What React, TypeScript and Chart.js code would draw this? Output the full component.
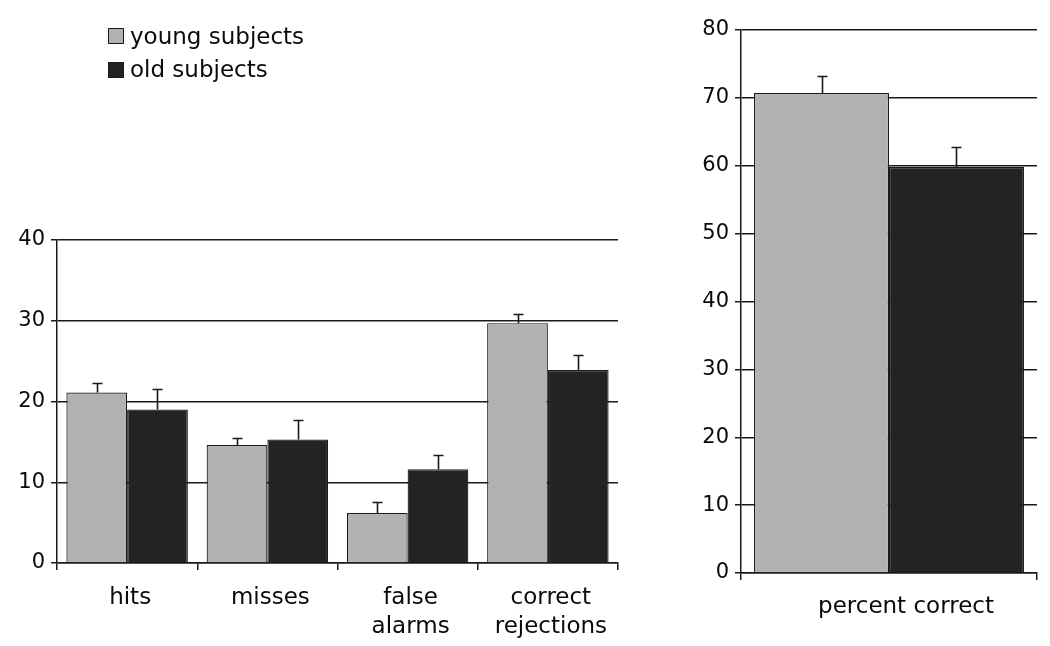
import React, { useEffect, useRef } from "react";
import { Chart, registerables } from "chart.js";

Chart.register(...registerables);

// ---- data ----
const categories: string[][] = [["hits"], ["misses"], ["false", "alarms"], ["correct", "rejections"]];
const youngValues = [21.1, 14.6, 6.2, 29.7];
const oldValues = [19.0, 15.3, 11.6, 23.9];
const youngErrors = [1.2, 0.9, 1.3, 1.1];
const oldErrors = [2.5, 2.4, 1.8, 1.8];
const leftTicks = [0, 10, 20, 30, 40];

const percentCategories = ["percent correct"];
const percentYoung = [70.7];
const percentOld = [59.8];
const percentYoungErrors = [2.5];
const percentOldErrors = [2.9];
const rightTicks = [0, 10, 20, 30, 40, 50, 60, 70, 80];

const seriesNames = ["young subjects", "old subjects"];

// ---- styles ----
const YOUNG_COLOR = "#b2b2b2";
const OLD_COLOR = "#232323";
const INK = "#0a0a0a";
const LINE = "#1a1a1a";
const FONT = "'DejaVu Sans', Verdana, sans-serif";

const errorBarPlugin = {
  id: "errorBars",
  afterDatasetsDraw(chart: any) {
    const ctx = chart.ctx;
    const yScale = chart.scales.y;
    chart.data.datasets.forEach((ds: any, i: number) => {
      const meta = chart.getDatasetMeta(i);
      const errs: number[] = ds.errors || [];
      meta.data.forEach((bar: any, j: number) => {
        const v = ds.data[j];
        const e = errs[j];
        if (e == null) return;
        const x = Math.round(bar.x) + 0.5;
        const y0 = yScale.getPixelForValue(v);
        const y1 = Math.round(yScale.getPixelForValue(v + e)) + 0.5;
        ctx.save();
        ctx.strokeStyle = LINE;
        ctx.lineWidth = 1.6;
        ctx.beginPath();
        ctx.moveTo(x, y0);
        ctx.lineTo(x, y1);
        ctx.moveTo(x - 5, y1);
        ctx.lineTo(x + 5, y1);
        ctx.stroke();
        ctx.restore();
      });
    });
  },
};

function makeConfig(p: {
  labels: any[];
  young: number[];
  old: number[];
  youngErr: number[];
  oldErr: number[];
  ticks: number[];
  catPct: number;
  yWidth: number;
  xHeight: number;
  padding: { top: number; right: number; left: number; bottom: number };
  labelOffset: number;
  labelPadding: number;
}): any {
  return {
    type: "bar",
    data: {
      labels: p.labels,
      datasets: [
        {
          label: seriesNames[0],
          data: p.young,
          errors: p.youngErr,
          backgroundColor: YOUNG_COLOR,
          borderColor: LINE,
          borderWidth: 1.2,
          categoryPercentage: p.catPct,
          barPercentage: 1,
        },
        {
          label: seriesNames[1],
          data: p.old,
          errors: p.oldErr,
          backgroundColor: OLD_COLOR,
          borderColor: LINE,
          borderWidth: 1.2,
          categoryPercentage: p.catPct,
          barPercentage: 1,
        },
      ],
    },
    options: {
      responsive: false,
      animation: false,
      devicePixelRatio: 1,
      layout: { padding: p.padding },
      plugins: { legend: { display: false }, tooltip: { enabled: false } },
      scales: {
        x: {
          grid: {
            display: true,
            drawOnChartArea: false,
            drawTicks: true,
            tickLength: 7,
            color: LINE,
            lineWidth: 1.5,
            offset: true,
          },
          border: { display: true, color: LINE, width: 1.5 },
          ticks: {
            color: INK,
            font: { family: FONT, size: 23, lineHeight: 1.25 },
            padding: p.labelPadding,
            maxRotation: 0,
            autoSkip: false,
            labelOffset: p.labelOffset,
          },
          afterFit: (scale: any) => {
            scale.height = p.xHeight;
          },
        },
        y: {
          min: p.ticks[0],
          max: p.ticks[p.ticks.length - 1],
          afterBuildTicks: (scale: any) => {
            scale.ticks = p.ticks.map((v) => ({ value: v }));
          },
          grid: {
            display: true,
            drawOnChartArea: true,
            drawTicks: true,
            tickLength: 6,
            color: LINE,
            lineWidth: 1.5,
          },
          border: { display: true, color: LINE, width: 1.5 },
          ticks: {
            color: INK,
            font: { family: FONT, size: 21 },
            padding: 6,
          },
          afterFit: (scale: any) => {
            scale.width = p.yWidth;
          },
        },
      },
    },
    plugins: [errorBarPlugin],
  };
}

function BarChart(props: { config: any; width: number; height: number; left: number; top: number }) {
  const ref = useRef<HTMLCanvasElement | null>(null);
  useEffect(() => {
    if (!ref.current) return;
    const chart = new Chart(ref.current, props.config);
    return () => chart.destroy();
  }, []);
  return (
    <canvas
      ref={ref}
      width={props.width}
      height={props.height}
      style={{
        position: "absolute",
        left: props.left,
        top: props.top,
        width: props.width,
        height: props.height,
        display: "block",
      }}
    />
  );
}

function LegendItem(props: { color: string; text: string; top: number; boxTop: number }) {
  return (
    <>
      <div
        style={{
          position: "absolute",
          left: 108,
          top: props.boxTop,
          width: 14,
          height: 14,
          background: props.color,
          border: `1px solid ${LINE}`,
        }}
      />
      <div
        style={{
          position: "absolute",
          left: 130,
          top: props.top,
          fontFamily: FONT,
          fontSize: 23,
          lineHeight: "27px",
          color: INK,
          whiteSpace: "nowrap",
        }}
      >
        {props.text}
      </div>
    </>
  );
}

export default function App() {
  const leftConfig = makeConfig({
    labels: categories,
    young: youngValues,
    old: oldValues,
    youngErr: youngErrors,
    oldErr: oldErrors,
    ticks: leftTicks,
    catPct: 0.866,
    yWidth: 57,
    xHeight: 83,
    padding: { top: 240, right: 32, left: 0, bottom: 0 },
    labelOffset: 3,
    labelPadding: 14,
  });
  const rightConfig = makeConfig({
    labels: percentCategories,
    young: percentYoung,
    old: percentOld,
    youngErr: percentYoungErrors,
    oldErr: percentOldErrors,
    ticks: rightTicks,
    catPct: 0.912,
    yWidth: 82,
    xHeight: 73,
    padding: { top: 30, right: 12, left: 0, bottom: 0 },
    labelOffset: 17,
    labelPadding: 13,
  });
  return (
    <div
      style={{
        position: "absolute",
        left: 0,
        top: 0,
        width: 1050,
        height: 646,
        background: "#ffffff",
        overflow: "hidden",
      }}
    >
      <BarChart config={leftConfig} width={650} height={646} left={0} top={0} />
      <BarChart config={rightConfig} width={390} height={646} left={659} top={0} />
      <LegendItem color={YOUNG_COLOR} text={seriesNames[0]} top={23} boxTop={28} />
      <LegendItem color={OLD_COLOR} text={seriesNames[1]} top={56} boxTop={62} />
    </div>
  );
}
